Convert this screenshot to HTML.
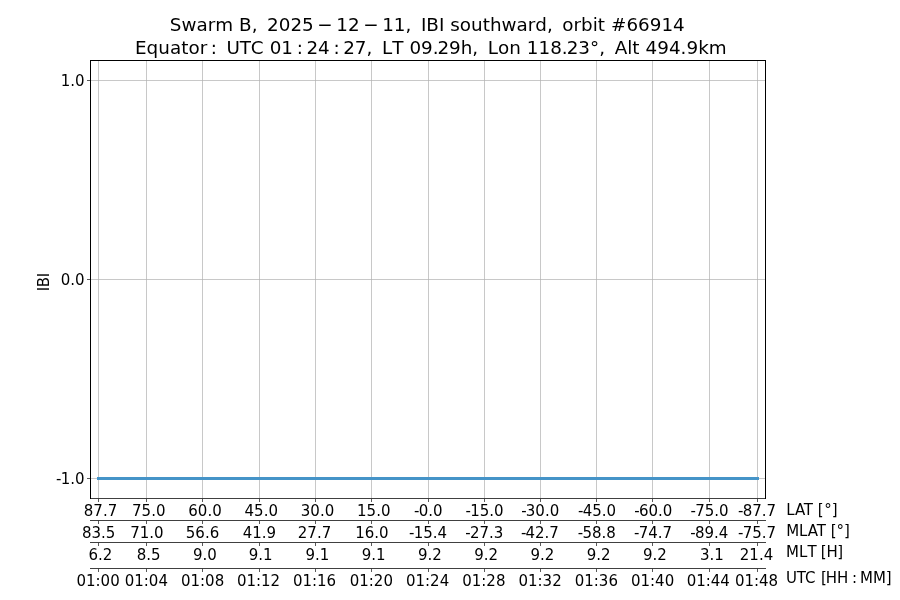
<!DOCTYPE html>
<html lang="en"><head><meta charset="utf-8"><title>Swarm B IBI southward orbit 66914</title>
<style>html,body{margin:0;padding:0;background:#fff;width:900px;height:600px;overflow:hidden}svg{display:block}
text{font-family:"DejaVu Sans Condensed","Liberation Sans",sans-serif;font-size:16.67px;fill:#000}
.t{font-family:"DejaVu Sans","Liberation Sans",sans-serif;font-size:18.333px}
.c{text-anchor:middle}.e{text-anchor:end}
</style></head><body>
<svg width="900" height="600" viewBox="0 0 900 600">
<rect width="900" height="600" fill="#fff"/>
<g stroke="#b0b0b0" stroke-opacity="0.7" stroke-width="1" shape-rendering="crispEdges">
<line x1="98.5" y1="61" x2="98.5" y2="498"/>
<line x1="146.5" y1="61" x2="146.5" y2="498"/>
<line x1="202.5" y1="61" x2="202.5" y2="498"/>
<line x1="259.5" y1="61" x2="259.5" y2="498"/>
<line x1="315.5" y1="61" x2="315.5" y2="498"/>
<line x1="371.5" y1="61" x2="371.5" y2="498"/>
<line x1="428.5" y1="61" x2="428.5" y2="498"/>
<line x1="484.5" y1="61" x2="484.5" y2="498"/>
<line x1="540.5" y1="61" x2="540.5" y2="498"/>
<line x1="596.5" y1="61" x2="596.5" y2="498"/>
<line x1="652.5" y1="61" x2="652.5" y2="498"/>
<line x1="709.5" y1="61" x2="709.5" y2="498"/>
<line x1="757.5" y1="61" x2="757.5" y2="498"/>
<line x1="91" y1="80.5" x2="765" y2="80.5"/>
<line x1="91" y1="279.5" x2="765" y2="279.5"/>
<line x1="91" y1="478.5" x2="765" y2="478.5"/>
</g>
<line x1="98.5" y1="478.5" x2="757.5" y2="478.5" stroke="#4594c8" stroke-width="3" stroke-linecap="square"/>
<g stroke="#000" stroke-width="1" shape-rendering="crispEdges" fill="none">
<path d="M90.5 499V60.5H765.5V499"/>
</g>
<g stroke="#000" stroke-width="0.75">
<line x1="91" y1="498.5" x2="766" y2="498.5"/>
<line x1="90" y1="520.5" x2="766" y2="520.5"/>
<line x1="90" y1="542.5" x2="766" y2="542.5"/>
<line x1="90" y1="568.5" x2="766" y2="568.5"/>
</g>
<g stroke="#000" stroke-width="0.65">
<line x1="98.5" y1="498.9" x2="98.5" y2="502.0"/>
<line x1="146.5" y1="498.9" x2="146.5" y2="502.0"/>
<line x1="202.5" y1="498.9" x2="202.5" y2="502.0"/>
<line x1="259.5" y1="498.9" x2="259.5" y2="502.0"/>
<line x1="315.5" y1="498.9" x2="315.5" y2="502.0"/>
<line x1="371.5" y1="498.9" x2="371.5" y2="502.0"/>
<line x1="428.5" y1="498.9" x2="428.5" y2="502.0"/>
<line x1="484.5" y1="498.9" x2="484.5" y2="502.0"/>
<line x1="540.5" y1="498.9" x2="540.5" y2="502.0"/>
<line x1="596.5" y1="498.9" x2="596.5" y2="502.0"/>
<line x1="652.5" y1="498.9" x2="652.5" y2="502.0"/>
<line x1="709.5" y1="498.9" x2="709.5" y2="502.0"/>
<line x1="757.5" y1="498.9" x2="757.5" y2="502.0"/>
<line x1="98.5" y1="520.9" x2="98.5" y2="524.0"/>
<line x1="146.5" y1="520.9" x2="146.5" y2="524.0"/>
<line x1="202.5" y1="520.9" x2="202.5" y2="524.0"/>
<line x1="259.5" y1="520.9" x2="259.5" y2="524.0"/>
<line x1="315.5" y1="520.9" x2="315.5" y2="524.0"/>
<line x1="371.5" y1="520.9" x2="371.5" y2="524.0"/>
<line x1="428.5" y1="520.9" x2="428.5" y2="524.0"/>
<line x1="484.5" y1="520.9" x2="484.5" y2="524.0"/>
<line x1="540.5" y1="520.9" x2="540.5" y2="524.0"/>
<line x1="596.5" y1="520.9" x2="596.5" y2="524.0"/>
<line x1="652.5" y1="520.9" x2="652.5" y2="524.0"/>
<line x1="709.5" y1="520.9" x2="709.5" y2="524.0"/>
<line x1="757.5" y1="520.9" x2="757.5" y2="524.0"/>
<line x1="98.5" y1="542.9" x2="98.5" y2="546.0"/>
<line x1="146.5" y1="542.9" x2="146.5" y2="546.0"/>
<line x1="202.5" y1="542.9" x2="202.5" y2="546.0"/>
<line x1="259.5" y1="542.9" x2="259.5" y2="546.0"/>
<line x1="315.5" y1="542.9" x2="315.5" y2="546.0"/>
<line x1="371.5" y1="542.9" x2="371.5" y2="546.0"/>
<line x1="428.5" y1="542.9" x2="428.5" y2="546.0"/>
<line x1="484.5" y1="542.9" x2="484.5" y2="546.0"/>
<line x1="540.5" y1="542.9" x2="540.5" y2="546.0"/>
<line x1="596.5" y1="542.9" x2="596.5" y2="546.0"/>
<line x1="652.5" y1="542.9" x2="652.5" y2="546.0"/>
<line x1="709.5" y1="542.9" x2="709.5" y2="546.0"/>
<line x1="757.5" y1="542.9" x2="757.5" y2="546.0"/>
<line x1="98.5" y1="568.9" x2="98.5" y2="572.0"/>
<line x1="146.5" y1="568.9" x2="146.5" y2="572.0"/>
<line x1="202.5" y1="568.9" x2="202.5" y2="572.0"/>
<line x1="259.5" y1="568.9" x2="259.5" y2="572.0"/>
<line x1="315.5" y1="568.9" x2="315.5" y2="572.0"/>
<line x1="371.5" y1="568.9" x2="371.5" y2="572.0"/>
<line x1="428.5" y1="568.9" x2="428.5" y2="572.0"/>
<line x1="484.5" y1="568.9" x2="484.5" y2="572.0"/>
<line x1="540.5" y1="568.9" x2="540.5" y2="572.0"/>
<line x1="596.5" y1="568.9" x2="596.5" y2="572.0"/>
<line x1="652.5" y1="568.9" x2="652.5" y2="572.0"/>
<line x1="709.5" y1="568.9" x2="709.5" y2="572.0"/>
<line x1="757.5" y1="568.9" x2="757.5" y2="572.0"/>
<line x1="87" y1="80.5" x2="90" y2="80.5"/>
<line x1="87" y1="279.5" x2="90" y2="279.5"/>
<line x1="87" y1="478.5" x2="90" y2="478.5"/>
</g>
<text class="e" x="84.5" y="85.5">1.0</text>
<text class="e" x="84.5" y="284.5">0.0</text>
<text class="e" x="84.5" y="483.5">-<tspan dx="-0.8">1.0</tspan></text>
<text class="c" transform="translate(48.5,282.2) rotate(-90)" letter-spacing="-0.3">IBI</text>
<text class="c" x="100.50" y="516.0">87.7</text>
<text class="c" x="148.75" y="516.0">75.0</text>
<text class="c" x="205.00" y="516.0">60.0</text>
<text class="c" x="261.25" y="516.0">45.0</text>
<text class="c" x="317.50" y="516.0">30.0</text>
<text class="c" x="373.75" y="516.0">15.0</text>
<text class="c" x="428.30" y="516.0">-<tspan dx="-0.8">0.0</tspan></text>
<text class="c" x="484.55" y="516.0">-<tspan dx="-0.8">15.0</tspan></text>
<text class="c" x="540.20" y="516.0">-<tspan dx="-0.8">30.0</tspan></text>
<text class="c" x="597.05" y="516.0">-<tspan dx="-0.8">45.0</tspan></text>
<text class="c" x="653.30" y="516.0">-<tspan dx="-0.8">60.0</tspan></text>
<text class="c" x="709.55" y="516.0">-<tspan dx="-0.8">75.0</tspan></text>
<text class="c" x="757.00" y="516.0">-<tspan dx="-0.8">87.7</tspan></text>
<text class="c" x="98.70" y="538.0">83.5</text>
<text class="c" x="146.95" y="538.0">71.0</text>
<text class="c" x="202.50" y="538.0">56.6</text>
<text class="c" x="259.45" y="538.0">41.9</text>
<text class="c" x="314.50" y="538.0">27.7</text>
<text class="c" x="371.95" y="538.0">16.0</text>
<text class="c" x="428.00" y="538.0">-<tspan dx="-0.8">15.4</tspan></text>
<text class="c" x="484.25" y="538.0">-<tspan dx="-0.8">27.3</tspan></text>
<text class="c" x="539.90" y="538.0">-<tspan dx="-0.8">42.7</tspan></text>
<text class="c" x="596.75" y="538.0">-<tspan dx="-0.8">58.8</tspan></text>
<text class="c" x="653.00" y="538.0">-<tspan dx="-0.8">74.7</tspan></text>
<text class="c" x="709.25" y="538.0">-<tspan dx="-0.8">89.4</tspan></text>
<text class="c" x="757.00" y="538.0">-<tspan dx="-0.8">75.7</tspan></text>
<text class="c" x="100.50" y="560.0">6.2</text>
<text class="c" x="148.75" y="560.0">8.5</text>
<text class="c" x="205.00" y="560.0">9.0</text>
<text class="c" x="260.75" y="560.0">9.1</text>
<text class="c" x="317.50" y="560.0">9.1</text>
<text class="c" x="373.75" y="560.0">9.1</text>
<text class="c" x="430.00" y="560.0">9.2</text>
<text class="c" x="486.25" y="560.0">9.2</text>
<text class="c" x="542.50" y="560.0">9.2</text>
<text class="c" x="598.75" y="560.0">9.2</text>
<text class="c" x="655.00" y="560.0">9.2</text>
<text class="c" x="711.85" y="560.0">3.1</text>
<text class="c" x="756.50" y="560.0">21.4</text>
<text class="c" x="98.10" y="586.0">01:00</text>
<text class="c" x="146.35" y="586.0">01:04</text>
<text class="c" x="202.60" y="586.0">01:08</text>
<text class="c" x="258.55" y="586.0">01:12</text>
<text class="c" x="314.50" y="586.0">01:16</text>
<text class="c" x="371.35" y="586.0">01:20</text>
<text class="c" x="427.60" y="586.0">01:24</text>
<text class="c" x="483.85" y="586.0">01:28</text>
<text class="c" x="540.10" y="586.0">01:32</text>
<text class="c" x="596.35" y="586.0">01:36</text>
<text class="c" x="652.60" y="586.0">01:40</text>
<text class="c" x="708.25" y="586.0">01:44</text>
<text class="c" x="756.50" y="586.0">01:48</text>
<text x="786.2" y="515">LAT [<tspan dx="0.5">°</tspan>]</text>
<text x="786.2" y="536">MLAT [°]</text>
<text x="786" y="556.8">ML<tspan dx="2.6">T</tspan><tspan dx="-0.8"> </tspan>[H<tspan dx="-0.5">]</tspan></text>
<text x="785.9" y="582.8">UTC<tspan dx="0.7"> </tspan>[<tspan dx="-1.2">H</tspan>H<tspan dx="-1.1"> </tspan>:<tspan dx="-1.7"> </tspan>MM]</text>
<text class="t" y="30.9" x="169.80 181.45 196.46 207.71 215.25 215.25 239.09 251.68 251.68 267.05 278.73 290.40 302.08 317.33 336.29 347.96 363.22 382.17 393.85 405.52 405.52 420.89 426.30 438.89 438.89 450.27 459.83 471.06 482.69 489.89 501.52 516.53 527.77 535.32 546.97 546.97 562.34 573.57 581.11 592.76 597.86 597.86 611.02 626.40 638.07 649.75 661.43 673.10">Swarm B, 2025−12−11, IBI southward, orbit #66914</text>
<text class="t" y="53.7" x="135.00 146.61 158.28 169.93 181.20 188.41 199.65 210.79 210.79 226.54 239.64 250.87 250.87 269.68 281.37 296.65 306.42 318.12 333.40 343.17 354.87 366.56 366.56 381.96 392.20 392.20 409.39 421.09 432.79 437.59 448.94 460.63 472.28 472.28 487.68 497.92 509.16 509.16 526.78 538.48 550.18 561.87 566.67 578.37 590.06 599.26 599.26 614.65 627.22 632.33 632.33 645.51 657.20 668.90 680.60 686.44 698.13 708.78">Equator: UTC 01:24:27, LT 09.29h, Lon 118.23°, Alt 494.9km</text>
</svg></body></html>
